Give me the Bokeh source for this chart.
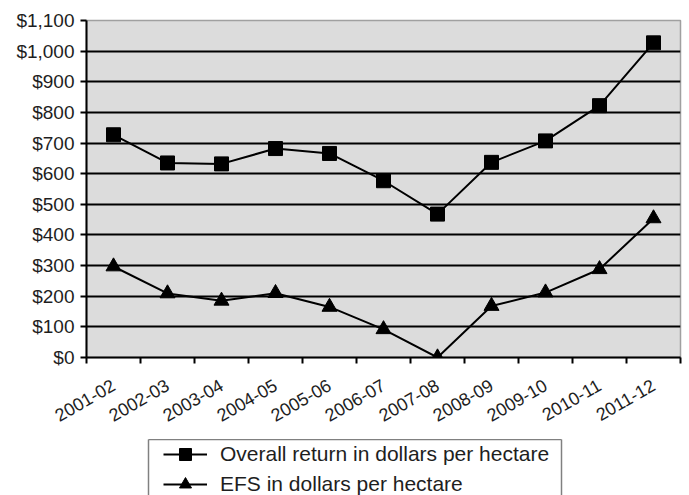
import math
from bokeh.plotting import figure
from bokeh.layouts import column
from bokeh.models import (Range1d, FixedTicker, Legend, LegendItem,
                          NumeralTickFormatter, LinearAxis)
from bokeh.embed import file_html
from bokeh.resources import INLINE

# Farm returns per hectare by season
seasons = ["2001-02", "2002-03", "2003-04", "2004-05", "2005-06", "2006-07",
           "2007-08", "2008-09", "2009-10", "2010-11", "2011-12"]
overall_return = [727, 635, 632, 682, 666, 577, 468, 637, 707, 822, 1027]
efs_return = [297, 209, 185, 210, 165, 92, 0, 168, 212, 288, 454]
y_ticks = [0, 100, 200, 300, 400, 500, 600, 700, 800, 900, 1000, 1100]
series_labels = ["Overall return in dollars per hectare",
                 "EFS in dollars per hectare"]

FONT = "Liberation Sans"
TEXT = "#1e1e1e"

# seasons sit in the middle of unit-wide slots; ticks mark the slot edges
xs = [i + 0.5 for i in range(len(seasons))]
edges = list(range(len(seasons) + 1))

p = figure(width=689, height=439, output_backend="svg", toolbar_location=None,
           x_range=Range1d(0, len(seasons)), y_range=Range1d(0, 1100),
           min_border_left=86, min_border_right=9, min_border_top=20,
           min_border_bottom=82, frame_align=False)
p.background_fill_color = "#dcdcdc"
p.border_fill_color = "white"
p.outline_line_color = "#a0a0a0"
p.outline_line_width = 1.5

# y axis
p.yaxis.ticker = FixedTicker(ticks=y_ticks)
p.yaxis.formatter = NumeralTickFormatter(format="$0,0")
p.yaxis.axis_line_color = "black"
p.yaxis.axis_line_width = 2
p.yaxis.major_tick_line_color = "black"
p.yaxis.major_tick_line_width = 2
p.yaxis.major_tick_out = 6
p.yaxis.major_tick_in = 0
p.yaxis.minor_tick_line_color = None
p.yaxis.major_label_standoff = 6
p.yaxis.major_label_text_font = FONT
p.yaxis.major_label_text_font_size = "19px"
p.yaxis.major_label_text_color = TEXT

# x axis
p.xaxis.ticker = FixedTicker(ticks=xs, minor_ticks=edges)
p.xaxis.major_label_overrides = {x: s for x, s in zip(xs, seasons)}
p.xaxis.axis_line_color = "black"
p.xaxis.axis_line_width = 2
p.xaxis.major_tick_line_color = None
p.xaxis.minor_tick_line_color = "black"
p.xaxis.minor_tick_line_width = 2
p.xaxis.minor_tick_out = 6
p.xaxis.minor_tick_in = 0
p.xaxis.major_label_orientation = math.radians(30)
p.xaxis.major_label_standoff = 20
p.xaxis.major_label_text_font = FONT
p.xaxis.major_label_text_font_size = "18px"
p.xaxis.major_label_text_color = TEXT

# horizontal grid lines only
p.xgrid.grid_line_color = None
p.ygrid.ticker = FixedTicker(ticks=y_ticks[1:-1])
p.ygrid.grid_line_color = "black"
p.ygrid.grid_line_width = 2

p.line(xs, overall_return, line_color="black", line_width=2)
p.scatter(xs, overall_return, marker="square", size=14,
          fill_color="black", line_color="black")
p.line(xs, efs_return, line_color="black", line_width=2)
p.scatter(xs, efs_return, marker="triangle", size=15,
          fill_color="black", line_color="black")

# legend strip: a framed box below the chart; its own copies of the series
# lie outside its (empty) view and only supply the legend swatches
lg = figure(width=689, height=56, output_backend="svg", toolbar_location=None,
            x_range=Range1d(0, 1), y_range=Range1d(-2, -1),
            x_axis_location=None, y_axis_location=None,
            min_border_left=148, min_border_right=128,
            min_border_top=0, min_border_bottom=0, frame_align=False)
lg.outline_line_color = None
lg.xgrid.visible = False
lg.ygrid.visible = False
lg.background_fill_color = "white"

for side in ("left", "right", "above"):
    ax = LinearAxis(ticker=FixedTicker(ticks=[]))
    ax.axis_line_color = "#808080"
    ax.axis_line_width = 1.5
    ax.major_tick_out = 0
    ax.major_tick_in = 0
    ax.minor_tick_out = 0
    ax.minor_tick_in = 0
    ax.major_label_standoff = 0
    ax.major_label_text_font_size = "0px"
    lg.add_layout(ax, side)

k1 = lg.line(xs, overall_return, line_color="black", line_width=2)
s1 = lg.scatter(xs, overall_return, marker="square", size=9,
                fill_color="black", line_color="black")
k2 = lg.line(xs, efs_return, line_color="black", line_width=2)
s2 = lg.scatter(xs, efs_return, marker="triangle", size=9,
                fill_color="black", line_color="black")

legend = Legend(items=[
    LegendItem(label=series_labels[0], renderers=[k1, s1]),
    LegendItem(label=series_labels[1], renderers=[k2, s2]),
], location=(13, -6))
legend.padding = 2
legend.spacing = 0
legend.glyph_width = 44
legend.glyph_height = 30
legend.label_height = 30
legend.label_standoff = 13
legend.label_text_font = FONT
legend.label_text_font_size = "21px"
legend.label_text_color = TEXT
legend.border_line_alpha = 0
legend.background_fill_alpha = 0
lg.add_layout(legend)

layout = column(p, lg, spacing=0)
open("out.html", "w").write(file_html(layout, INLINE))
